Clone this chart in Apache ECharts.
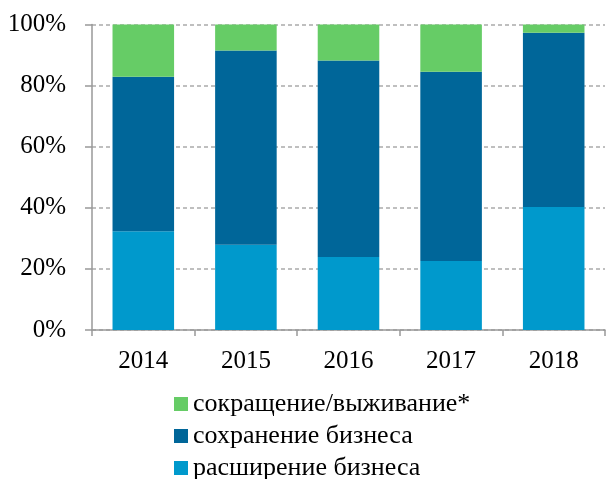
<!DOCTYPE html>
<html>
<head>
<meta charset="utf-8">
<script src="https://cdn.jsdelivr.net/npm/echarts@6/dist/echarts.min.js"></script>
<style>
  html, body { margin: 0; padding: 0; background: #fff; }
  #chart { width: 611px; height: 479px; }
</style>
</head>
<body>
<div id="chart"></div>
<script>
var years = ['2014', '2015', '2016', '2017', '2018'];
// доли, %
var expand = [32.3, 27.9, 23.9, 22.6, 40.3];
var keep = [50.6, 63.6, 64.3, 61.9, 57.0];
var shrink = [17.1, 8.5, 11.8, 15.5, 2.7];
var yTicks = [0, 20, 40, 60, 80, 100];

var serif = '"Liberation Serif", "DejaVu Serif", serif';
var myChart = echarts.init(document.getElementById('chart'));

var option = {
  animation: false,
  grid: { left: 92, right: 6, top: 24.5, bottom: 149 },
  legend: {
    orient: 'vertical',
    left: 174,
    top: 390,
    padding: 0,
    height: 200,
    itemWidth: 14,
    itemHeight: 14,
    itemGap: 4,
    icon: 'rect',
    data: ['сокращение/выживание*', 'сохранение бизнеса', 'расширение бизнеса'],
    textStyle: { fontFamily: serif, fontSize: 26, lineHeight: 28, color: '#000' }
  },
  xAxis: {
    type: 'category',
    data: years,
    axisLine: { lineStyle: { color: '#999', width: 1.5 } },
    axisTick: { show: true, length: 6, lineStyle: { color: '#999', width: 1.5 } },
    axisLabel: { fontFamily: serif, fontSize: 25, color: '#000', margin: 19 }
  },
  yAxis: {
    type: 'value',
    min: 0,
    max: 100,
    interval: 20,
    axisLine: { show: true, lineStyle: { color: '#999', width: 1.5 } },
    axisTick: { show: true, length: 7, lineStyle: { color: '#999', width: 1.5 } },
    axisLabel: {
      fontFamily: serif, fontSize: 25, color: '#000', margin: 26,
      formatter: function (v) { return yTicks.indexOf(v) >= 0 ? v + '%' : ''; }
    },
    splitLine: { lineStyle: { color: '#aaa', type: [4, 3], width: 1.5 } }
  },
  series: [
    { name: 'расширение бизнеса', type: 'bar', stack: 'all', data: expand,
      barCategoryGap: '40%', itemStyle: { color: '#0099CC' } },
    { name: 'сохранение бизнеса', type: 'bar', stack: 'all', data: keep,
      itemStyle: { color: '#006699' } },
    { name: 'сокращение/выживание*', type: 'bar', stack: 'all', data: shrink,
      itemStyle: { color: '#66CC66' } }
  ]
};
myChart.setOption(option);
</script>
</body>
</html>
